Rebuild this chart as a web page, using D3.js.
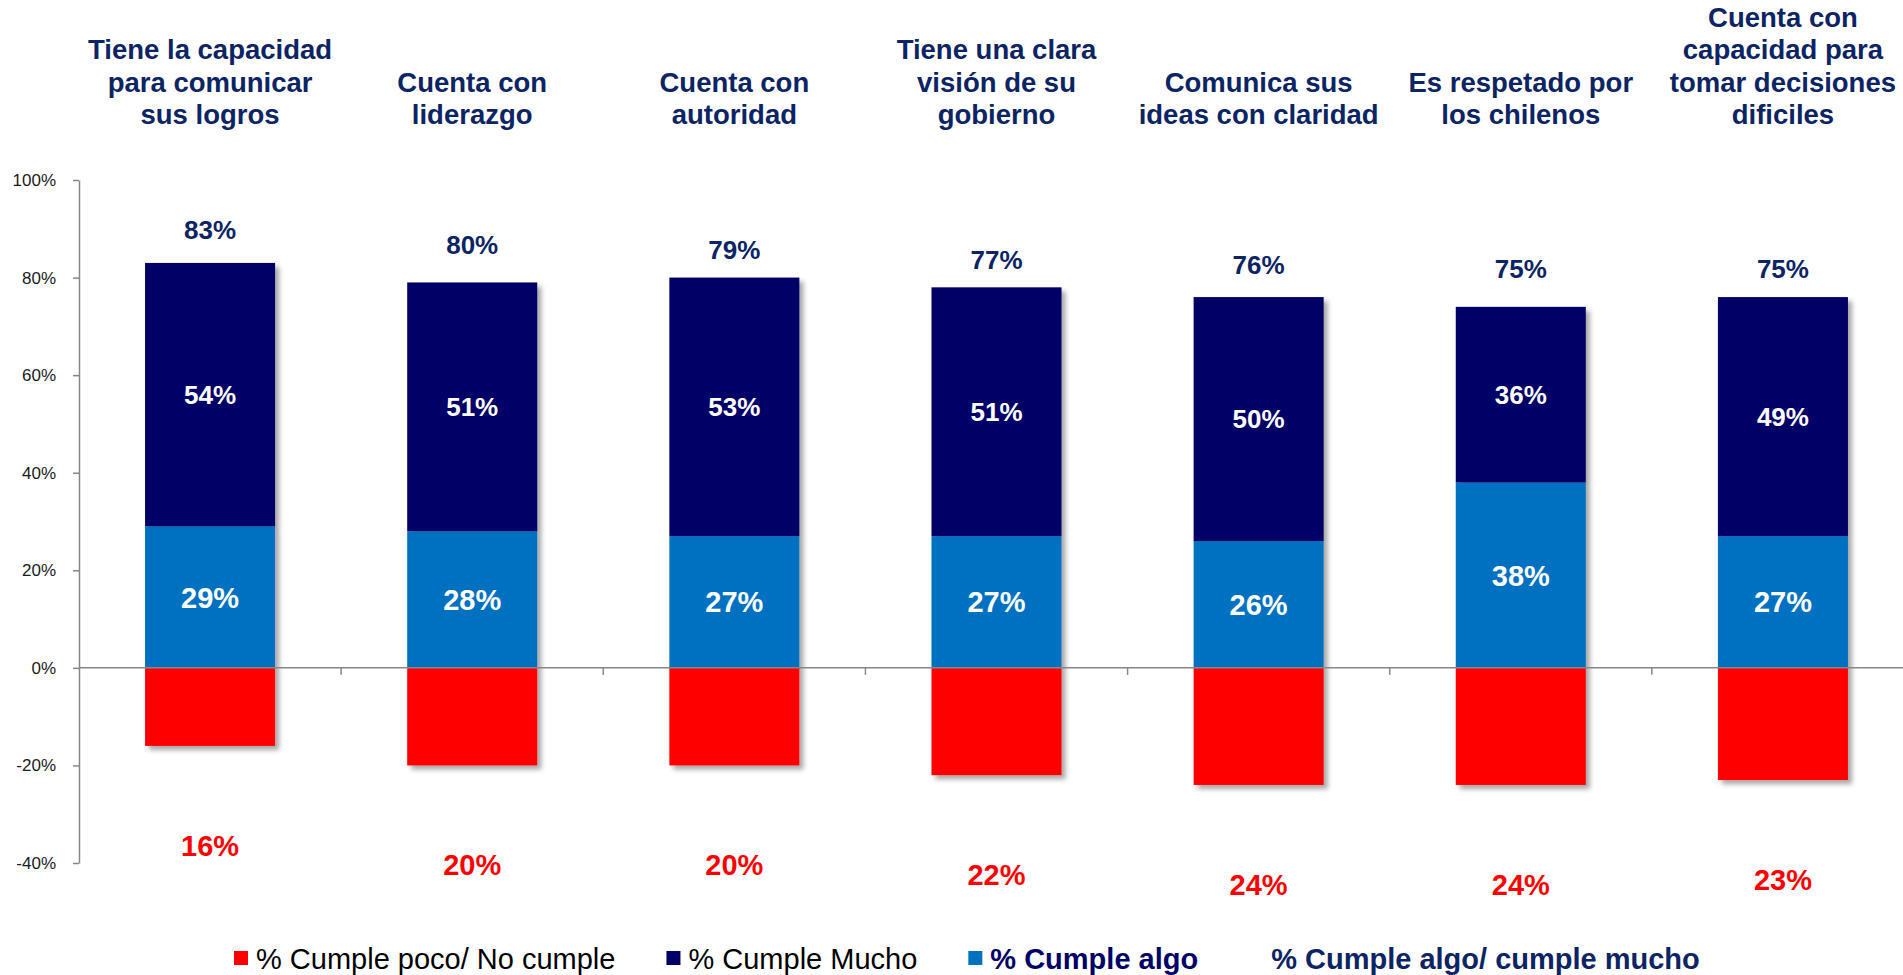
<!DOCTYPE html>
<html>
<head>
<meta charset="utf-8">
<script src="https://cdn.jsdelivr.net/npm/d3@7"></script>
<style>
  body { margin: 0; background: #fff; }
  text { font-family: "Liberation Sans", Arial, sans-serif; }
</style>
</head>
<body>
<div id="chart"></div>
<script>
// chart values
var categories = [
    ["Tiene la capacidad", "para comunicar", "sus logros"],
    ["Cuenta con", "liderazgo"],
    ["Cuenta con", "autoridad"],
    ["Tiene una clara", "visión de su", "gobierno"],
    ["Comunica sus", "ideas con claridad"],
    ["Es respetado por", "los chilenos"],
    ["Cuenta con", "capacidad para", "tomar decisiones", "dificiles"]
];
var cumpleAlgo = [29, 28, 27, 27, 26, 38, 27];
var cumpleMucho = [54, 51, 53, 51, 50, 36, 49];
var cumplePoco = [16, 20, 20, 22, 24, 24, 23];
var algoMucho = [83, 80, 79, 77, 76, 75, 75];
var yTicks = [-40, -20, 0, 20, 40, 60, 80, 100];
var legendLabels = ["% Cumple poco/ No cumple", "% Cumple Mucho", "% Cumple algo", "% Cumple algo/ cumple mucho"];

var W = 1903, H = 975;
var navy = "#0c2463", darkBar = "#000066", blueBar = "#0070c0", redBar = "#ff0000", grey = "#878787";

var svg = d3.select("#chart").append("svg")
    .attr("width", W)
    .attr("height", H);

var defs = svg.append("defs");
defs.append("filter")
    .attr("id", "shadow")
    .attr("filterUnits", "userSpaceOnUse")
    .attr("x", 0).attr("y", 0).attr("width", W).attr("height", H)
    .append("feDropShadow")
    .attr("dx", 4).attr("dy", 4)
    .attr("stdDeviation", 2.5)
    .attr("flood-color", "#000")
    .attr("flood-opacity", 0.35);

var idx = d3.range(categories.length);

var x = d3.scaleBand()
    .domain(idx)
    .range([79, 1914])
    .paddingInner(0.504)
    .paddingOuter(0.252);

var y = d3.scaleLinear()
    .domain([-40, 100])
    .range([863, 180]);

// bars
var bars = svg.append("g").attr("filter", "url(#shadow)");

bars.selectAll(".red").data(idx).enter().append("rect")
    .attr("x", i => x(i))
    .attr("width", x.bandwidth())
    .attr("y", y(0))
    .attr("height", i => y(-cumplePoco[i]) - y(0))
    .attr("fill", redBar);

bars.selectAll(".blue").data(idx).enter().append("rect")
    .attr("x", i => x(i))
    .attr("width", x.bandwidth())
    .attr("y", i => y(cumpleAlgo[i]))
    .attr("height", i => y(0) - y(cumpleAlgo[i]))
    .attr("fill", blueBar);

bars.selectAll(".dark").data(idx).enter().append("rect")
    .attr("x", i => x(i))
    .attr("width", x.bandwidth())
    .attr("y", i => y(cumpleAlgo[i] + cumpleMucho[i]))
    .attr("height", i => y(cumpleAlgo[i]) - y(cumpleAlgo[i] + cumpleMucho[i]))
    .attr("fill", darkBar);

// Y axis
var yAxis = svg.append("g")
    .attr("transform", "translate(79,0)")
    .call(d3.axisLeft(y)
        .tickValues(yTicks)
        .tickFormat(d => d + "%")
        .tickSize(6)
        .tickSizeOuter(0)
        .tickPadding(17));
yAxis.select(".domain").attr("stroke", grey).attr("stroke-width", 1.5);
yAxis.selectAll(".tick line").attr("stroke", grey).attr("stroke-width", 1.5);
yAxis.selectAll(".tick text")
    .attr("font-size", "17px")
    .attr("fill", "#1a1a1a")
    .style("font-family", "'Liberation Sans', Arial, sans-serif");

// zero line and category ticks
svg.append("line")
    .attr("x1", 79).attr("x2", W)
    .attr("y1", y(0)).attr("y2", y(0))
    .attr("stroke", grey).attr("stroke-width", 1.5);

var gap = (x.step() - x.bandwidth()) / 2;
svg.selectAll(".cattick").data(idx.slice(1)).enter().append("line")
    .attr("x1", i => x(i) - gap).attr("x2", i => x(i) - gap)
    .attr("y1", y(0)).attr("y2", y(0) + 7)
    .attr("stroke", grey).attr("stroke-width", 1.5);

// segment labels
var cx = i => x(i) + x.bandwidth() / 2;

svg.selectAll(".lblDark").data(idx).enter().append("text")
    .attr("x", cx)
    .attr("y", i => (y(cumpleAlgo[i]) + y(cumpleAlgo[i] + cumpleMucho[i])) / 2 + 9)
    .attr("text-anchor", "middle")
    .attr("font-size", "26px").attr("font-weight", 700)
    .attr("fill", "#fff")
    .text(i => cumpleMucho[i] + "%");

svg.selectAll(".lblBlue").data(idx).enter().append("text")
    .attr("x", cx)
    .attr("y", i => (y(0) + y(cumpleAlgo[i])) / 2 + 10.5)
    .attr("text-anchor", "middle")
    .attr("font-size", "29px").attr("font-weight", 700)
    .attr("fill", "#fff")
    .text(i => cumpleAlgo[i] + "%");

svg.selectAll(".lblTotal").data(idx).enter().append("text")
    .attr("x", cx)
    .attr("y", i => y(algoMucho[i]) - 23.5)
    .attr("text-anchor", "middle")
    .attr("font-size", "26px").attr("font-weight", 700)
    .attr("fill", navy)
    .text(i => algoMucho[i] + "%");

svg.selectAll(".lblRed").data(idx).enter().append("text")
    .attr("x", cx)
    .attr("y", i => y(-cumplePoco[i]) + 110)
    .attr("text-anchor", "middle")
    .attr("font-size", "29px").attr("font-weight", 700)
    .attr("fill", redBar)
    .text(i => cumplePoco[i] + "%");

// category titles
var titles = svg.selectAll(".title").data(idx).enter().append("text")
    .attr("text-anchor", "middle")
    .attr("font-size", "27.5px").attr("font-weight", 700)
    .attr("fill", navy);
titles.each(function (i) {
    var lines = categories[i];
    var t = d3.select(this);
    lines.forEach(function (ln, k) {
        t.append("tspan")
            .attr("x", cx(i))
            .attr("y", 124 - (lines.length - 1 - k) * 32.5)
            .text(ln);
    });
});

// legend
var legendColors = [redBar, darkBar, blueBar, null];
var legendText = ["#000", "#000", darkBar, navy];
var legendWeight = [400, 400, 700, 700];
var lx = 234;
var legend = svg.append("g");
legendLabels.forEach(function (lab, k) {
    if (legendColors[k]) {
        legend.append("rect")
            .attr("x", lx).attr("y", 951)
            .attr("width", 14).attr("height", 14)
            .attr("fill", legendColors[k]);
    }
    var t = legend.append("text")
        .attr("x", lx + 22).attr("y", 969)
        .attr("font-size", "29px")
        .attr("font-weight", legendWeight[k])
        .attr("fill", legendText[k])
        .text(lab);
    lx = lx + 22 + t.node().getComputedTextLength() + 51;
});
</script>
</body>
</html>
